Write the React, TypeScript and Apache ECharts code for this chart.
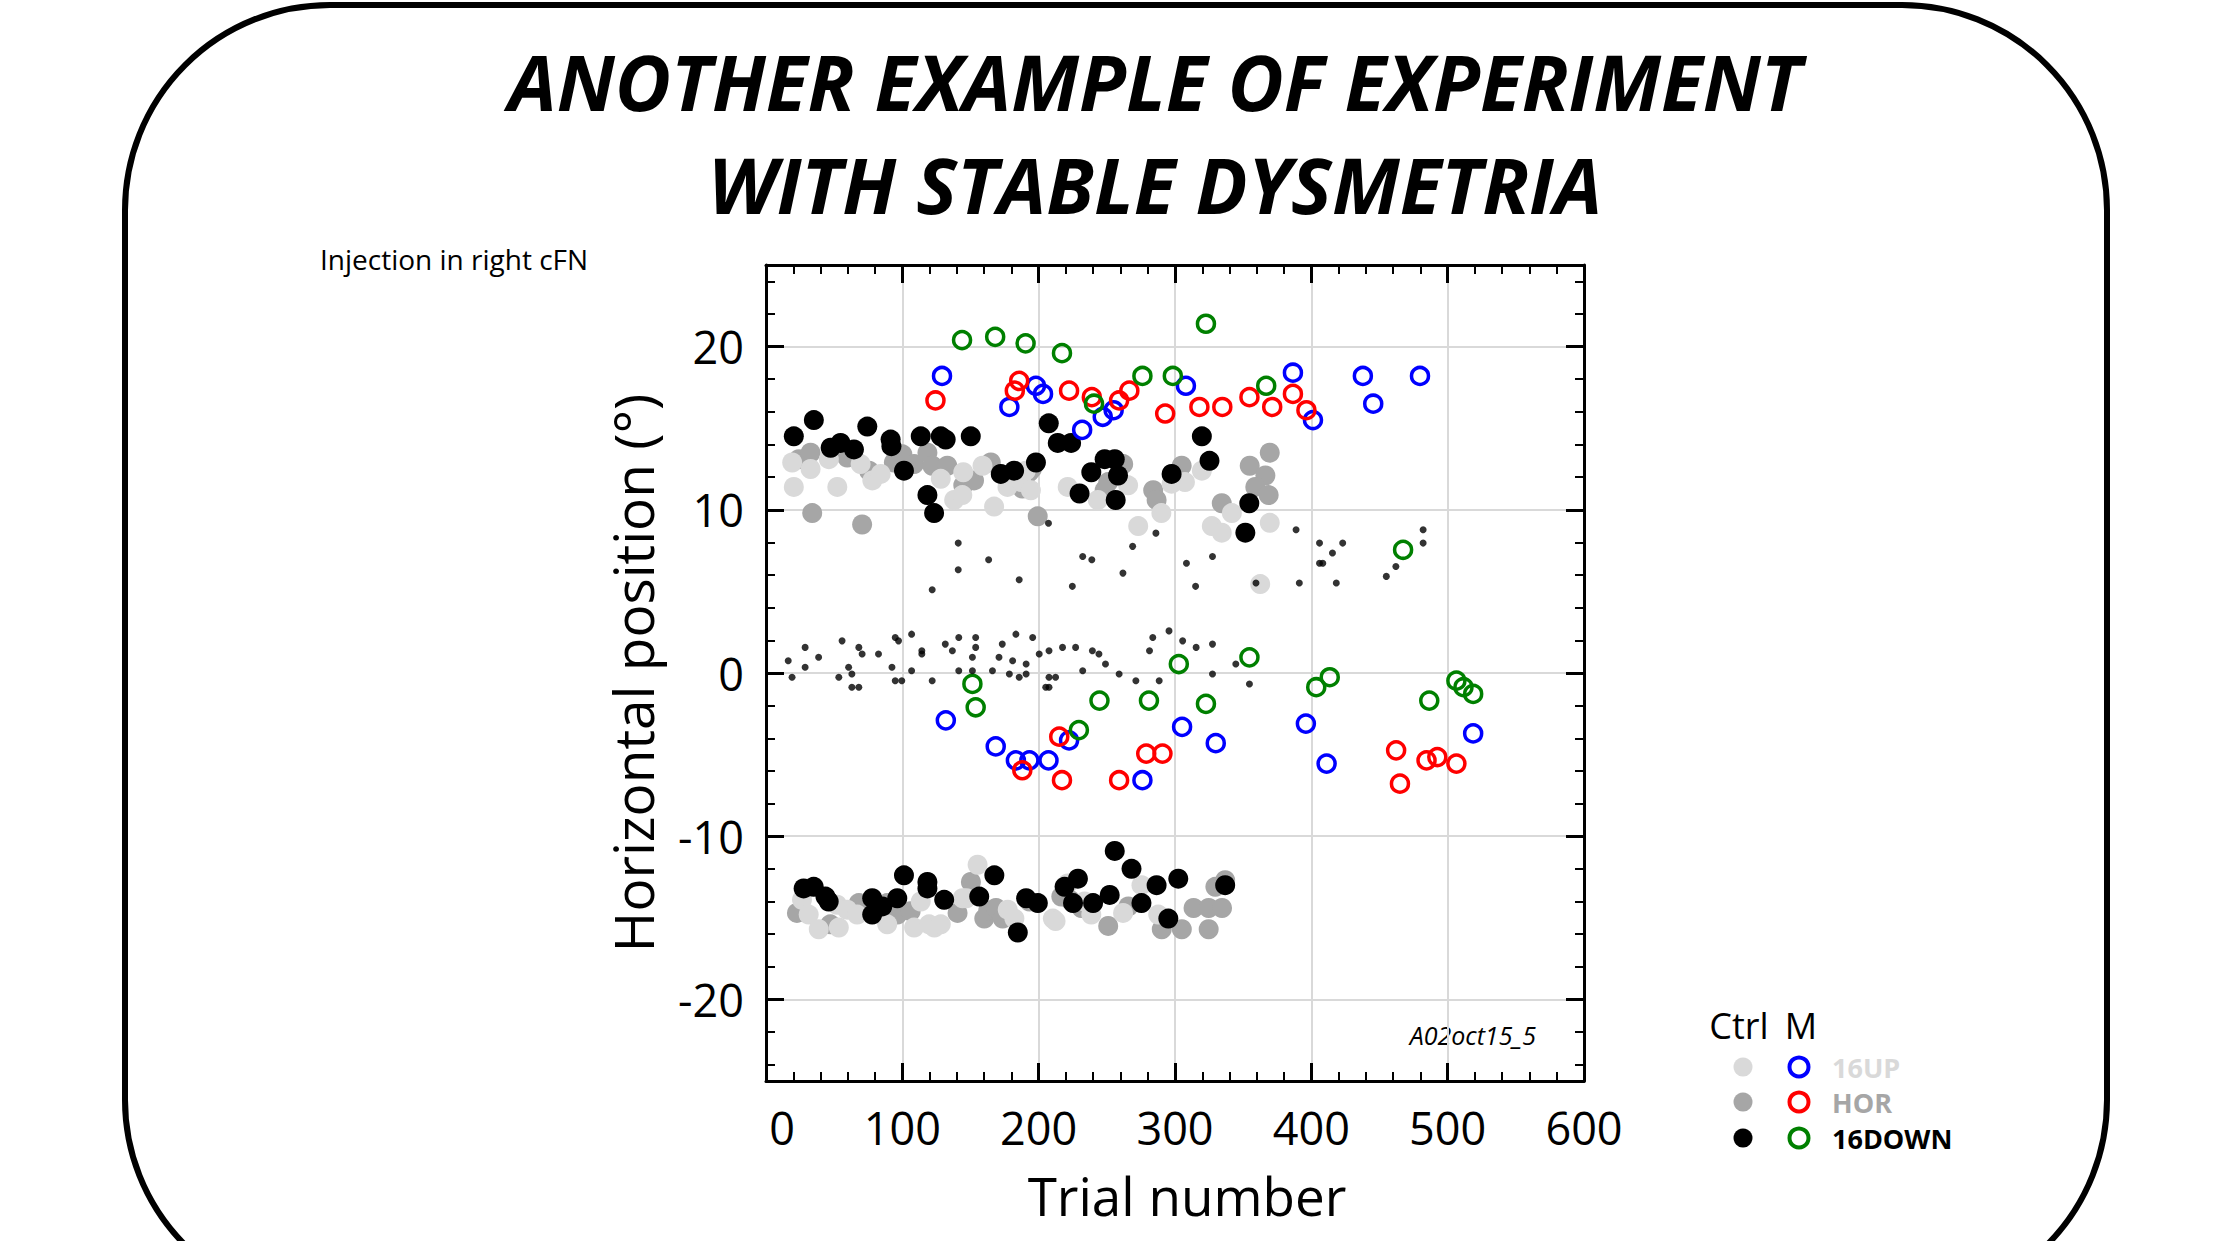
import React, { useEffect, useRef } from 'react';
import * as echarts from 'echarts';

const FONT = "'Open Sans', sans-serif";

const xRange = [0, 600];
const yRange = [-25, 25];

// Control trials (filled circles)
const ctrlUp: number[][] = [
  [19.2, 12.9], [20.4, 11.4], [32.7, 12.5], [46.1, 13.1], [52.3, 11.4], [69.4, 12.8], [78, 11.8], [84.1, 12.2],
  [128.2, 11.9], [138, 10.6], [144, 10.9], [144.7, 12.3], [158.8, 12.7], [167.3, 10.2], [177.1, 11.4], [187.3, 11.7],
  [190.6, 12.4], [194.3, 11.2], [221.3, 11.4], [243.4, 10.6], [265.6, 11.5], [273, 9.0], [290, 9.8], [297.5, 11.6],
  [307.3, 11.7], [319.7, 12.4], [327, 9.0], [334.3, 8.6], [341.7, 9.8], [369.5, 9.2], [362.5, 5.45],
  [26.4, -13.9], [31.3, -14.8], [38.7, -15.7], [52.1, -14.2], [53.4, -15.6], [59.5, -14.5], [66.9, -14.8], [88.9, -15.4],
  [108.6, -15.6], [113.5, -14.0], [119.6, -15.4], [123.5, -15.6], [128.2, -15.4], [144.2, -13.8], [147, -13.8], [155.2, -11.75],
  [177.3, -14.5], [182.2, -15.05], [210.4, -15.05], [212.4, -15.2], [221.4, -12.9], [233.7, -14.0], [238.6, -14.8],
  [261.9, -14.7], [275.4, -13.0], [287.7, -14.8],
];
const ctrlHor: number[][] = [
  [24.1, 13.1], [32.7, 13.5], [33.9, 9.8], [59.6, 13.2], [70.5, 9.1], [75.5, 12.4], [93.8, 12.9], [100, 13.4],
  [108.6, 12.8], [118.4, 13.5], [122, 12.7], [133, 12.7], [144.7, 11.5], [152.6, 11.8], [164.9, 12.9], [188, 11.3],
  [193, 12.3], [195, 12.5], [199.3, 9.6], [248.4, 11.2], [251, 11.7], [262, 12.8], [284, 11.2], [286.5, 10.6],
  [304.9, 12.7], [334.3, 10.4], [354.8, 12.7], [369.5, 13.5], [366.3, 12.1], [358.9, 11.4], [368.7, 10.9],
  [22.7, -14.7], [47.2, -15.4], [68.1, -14.1], [88.9, -14.1], [96.3, -14.8], [106.1, -14.6], [140.5, -14.7],
  [150.3, -12.8], [160.1, -15.05], [163, -14.55], [168.7, -14.4], [173.6, -15.05], [193.3, -14.0], [216.6, -13.7],
  [223, -13.9], [231.4, -14.4], [251, -15.5], [265.8, -14.3], [290.3, -15.7], [305, -15.7], [313.6, -14.4],
  [324.7, -14.4], [334.5, -14.4], [324.7, -15.7], [329.6, -13.1], [336.8, -12.7],
];
const ctrlDown: number[][] = [
  [20.4, 14.5], [35.1, 15.5], [47.4, 13.8], [54.7, 14.1], [64.5, 13.7], [74.3, 15.1], [91.4, 14.3], [92, 13.9],
  [101.2, 12.4], [113.5, 14.5], [118.4, 10.9], [123.3, 9.8], [128.2, 14.5], [131.8, 14.3], [150.2, 14.5], [172.2, 12.2],
  [182, 12.4], [198, 12.9], [207.4, 15.3], [214, 14.1], [223.8, 14.1], [230, 11.0], [238.6, 12.3], [248.4, 13.1],
  [255.8, 13.1], [258.2, 12.1], [256.5, 10.6], [297.5, 12.2], [319.7, 14.5], [325.3, 13.0], [354.5, 10.4], [351.6, 8.6],
  [27.6, -13.2], [35, -13.1], [43.6, -13.7], [46, -14.0], [77.9, -13.8], [77.9, -14.8], [85.3, -14.3], [96.3, -13.8],
  [101.2, -12.4], [118.4, -12.8], [118.4, -13.2], [130.7, -13.9], [156.4, -13.7], [167.5, -12.4], [184.7, -15.9],
  [190.8, -13.8], [199.4, -14.1], [219, -13.1], [228.8, -12.6], [225.2, -14.1], [239.9, -14.1], [252.1, -13.6],
  [255.8, -10.9], [268.1, -12.0], [275.4, -14.1], [286.5, -13.0], [295.1, -15.05], [302.4, -12.6], [336.8, -13.0],
];

// Manipulation trials (open circles)
const mUp: number[][] = [
  [129.1, 18.2], [178.5, 16.3], [198, 17.6], [203.2, 17.1], [231.9, 14.9], [247, 15.7], [255, 16.1], [308, 17.6],
  [386.5, 18.4], [401.2, 15.5], [437.8, 18.2], [445.4, 16.5], [479.7, 18.2],
  [131.9, -2.9], [168.5, -4.5], [183.3, -5.35], [193.2, -5.35], [207.2, -5.35], [222.3, -4.13], [276.1, -6.57],
  [305.2, -3.3], [329.9, -4.3], [396, -3.1], [411.2, -5.55], [518.7, -3.7],
];
const mHor: number[][] = [
  [124.3, 16.7], [182.5, 17.3], [185.7, 17.9], [222.3, 17.3], [239, 16.9], [259, 16.7], [266.5, 17.3], [292.8, 15.9],
  [317.9, 16.3], [334.7, 16.3], [354.6, 16.9], [371.3, 16.3], [386.5, 17.1], [396.4, 16.1],
  [215.1, -3.9], [188, -5.96], [217.1, -6.57], [259, -6.57], [278.9, -4.94], [290.8, -4.94], [462.2, -4.74],
  [465, -6.78], [484.5, -5.35], [492.4, -5.15], [506.4, -5.55],
];
const mDown: number[][] = [
  [143.8, 20.4], [168.1, 20.6], [190.4, 20.2], [217.1, 19.6], [322.7, 21.4], [276.1, 18.2], [298.4, 18.2],
  [366.9, 17.6], [240.6, 16.5], [467.3, 7.55],
  [151.4, -0.67], [153.8, -2.1], [229.5, -3.5], [244.6, -1.69], [280.9, -1.69], [302.8, 0.55], [322.7, -1.89],
  [354.6, 0.96], [403.6, -0.87], [413.5, -0.26], [486.5, -1.69], [506.4, -0.47], [511.6, -0.87], [518.7, -1.28],
];

// Small black dots
const dots: number[][] = [
  [207.2, 9.18], [286, 8.57], [141, 7.96], [268.9, 7.76], [232.3, 7.14], [239, 6.94], [163.3, 6.94], [308.4, 6.73],
  [327.5, 7.14], [141, 6.33], [261.8, 6.12], [185.7, 5.71], [224.7, 5.31], [315.1, 5.31], [121.9, 5.1], [359.4, 5.51],
  [388.8, 8.78], [406, 7.96], [423, 7.96], [415.5, 7.35], [406, 6.73], [408.4, 6.73], [391.2, 5.51], [418.3, 5.51],
  [482, 8.78], [482, 7.96], [462, 6.53], [455, 5.92],
  [16.3, 0.75], [19.1, -0.26], [28.7, 1.57], [28.7, 0.35], [38.6, 0.96], [55.8, 1.97], [53.4, -0.26], [60.6, 0.35],
  [63, -0.06], [63, -0.87], [68.1, -0.87], [68.1, 1.57], [70.5, 1.16], [82.5, 1.16], [92.4, 0.35], [94.8, 2.18],
  [97.2, 1.97], [94.8, -0.47], [99.6, -0.47], [106.8, 2.38], [106.8, 0.14], [114.3, 1.36], [114.3, 1.16], [121.9, -0.47],
  [131.5, 1.77], [136.7, 1.36], [141.4, 2.18], [141.4, 0.14], [151.4, 0.96], [151.4, 0.14], [153.8, 2.18], [153.8, 1.57],
  [166.1, 0.14], [170.9, 0.96], [173.3, 1.77], [180.9, 0.75], [178.5, -0.06], [183.3, 2.38], [185.7, -0.26], [190.8, 0.55],
  [190.8, -0.06], [195.6, 2.18], [200.4, 1.16], [207.6, 1.36], [207.6, -0.26], [212.4, -0.26], [205.2, -0.87], [207.6, -0.87],
  [217.5, 1.57], [227.1, 1.57], [232.3, 0.14], [239.4, 1.36], [244.2, 1.16], [249, 0.55], [259, -0.06], [271.3, -0.47],
  [281.3, 1.36], [283.7, 2.18], [288.4, -0.47], [295.6, 2.58], [305.6, 1.97], [315.5, 1.57], [327.5, 1.77], [327.5, -0.06],
  [344.6, 0.55], [354.6, -0.67],
];

const legendRows = [
  { label: '16UP', ctrl: '#d9d9d9', m: '#0000ff', text: '#d9d9d9' },
  { label: 'HOR', ctrl: '#a6a6a6', m: '#ff0000', text: '#a6a6a6' },
  { label: '16DOWN', ctrl: '#000000', m: '#008000', text: '#000000' },
];

const titleLines = ['ANOTHER EXAMPLE OF EXPERIMENT', 'WITH STABLE DYSMETRIA'];

function filled(name: string, data: number[][], color: string) {
  return {
    type: 'scatter', name, data, symbol: 'circle', symbolSize: 20,
    itemStyle: { color, opacity: 1 }, silent: true, emphasis: { disabled: true },
  };
}
function open(name: string, data: number[][], color: string) {
  return {
    type: 'scatter', name, data, symbol: 'circle', symbolSize: 17,
    itemStyle: { color: 'rgba(0,0,0,0)', borderColor: color, borderWidth: 3.5, opacity: 1 },
    silent: true, emphasis: { disabled: true },
  };
}

export default function App() {
  const ref = useRef<HTMLDivElement>(null);
  useEffect(() => {
    if (!ref.current) return;
    const chart = echarts.init(ref.current, null, { renderer: 'svg' });
    const axisLine = { show: true, onZero: false, lineStyle: { color: '#000', width: 3 } };
    const axisTick = { show: true, inside: true, length: 18, lineStyle: { color: '#000', width: 3 } };
    const minorTick = { show: true, splitNumber: 5, length: 9, lineStyle: { color: '#000', width: 2 } };
    const split = { show: true, showMinLine: false, showMaxLine: false, lineStyle: { color: '#d9d9d9', width: 2 } };

    const graphic: any[] = [
      {
        type: 'rect', shape: { x: 125, y: 5, width: 1982, height: 1300, r: 205 },
        style: { fill: 'none', stroke: '#000', lineWidth: 6 }, z: 0,
      },
      ...titleLines.map((t, i) => ({
        type: 'text', x: 1155, y: i === 0 ? 81 : 184,
        style: {
          text: t, fill: '#000', font: `italic bold 77px ${FONT}`,
          textAlign: 'center', textVerticalAlign: 'middle',
        },
      })),
      {
        type: 'text', x: 320, y: 259,
        style: { text: 'Injection in right cFN', fill: '#000', font: `28px ${FONT}`, textAlign: 'left', textVerticalAlign: 'middle' },
      },
      {
        type: 'text', x: 632, y: 673, rotation: Math.PI / 2,
        style: { text: 'Horizontal position (°)', fill: '#000', font: `55px ${FONT}`, textAlign: 'center', textVerticalAlign: 'middle' },
      },
      {
        type: 'text', x: 1187, y: 1195,
        style: { text: 'Trial number', fill: '#000', font: `53px ${FONT}`, textAlign: 'center', textVerticalAlign: 'middle' },
      },
      {
        type: 'text', x: 1536, y: 1035,
        style: { text: 'A02oct15_5', fill: '#000', font: `italic 25px ${FONT}`, textAlign: 'right', textVerticalAlign: 'middle' },
      },
      {
        type: 'text', x: 1739, y: 1025,
        style: { text: 'Ctrl', fill: '#000', font: `36px ${FONT}`, textAlign: 'center', textVerticalAlign: 'middle' },
      },
      {
        type: 'text', x: 1801, y: 1025,
        style: { text: 'M', fill: '#000', font: `36px ${FONT}`, textAlign: 'center', textVerticalAlign: 'middle' },
      },
    ];
    const rowY = [1067, 1102, 1138];
    legendRows.forEach((r, i) => {
      graphic.push({ type: 'circle', shape: { cx: 1743, cy: rowY[i], r: 9.5 }, style: { fill: r.ctrl } });
      graphic.push({ type: 'circle', shape: { cx: 1799, cy: rowY[i], r: 9.5 }, style: { fill: 'none', stroke: r.m, lineWidth: 4 } });
      graphic.push({
        type: 'text', x: 1832, y: rowY[i],
        style: { text: r.label, fill: r.text, font: `bold 27px ${FONT}`, textAlign: 'left', textVerticalAlign: 'middle' },
      });
    });

    chart.setOption({
      animation: false,
      backgroundColor: '#ffffff',
      textStyle: { fontFamily: FONT },
      grid: { left: 766, top: 265, width: 818, height: 816, containLabel: false, outerBoundsMode: 'none' },
      xAxis: [
        {
          type: 'value', min: xRange[0], max: xRange[1], interval: 100, position: 'bottom',
          axisLine, axisTick, minorTick, splitLine: split,
          axisLabel: {
            show: true, margin: 24, color: '#000', fontSize: 45, fontFamily: FONT,
            formatter: (v: number) => (v === 0 ? '{z|0}' : String(v)),
            rich: { z: { padding: [0, 0, 0, 32], fontSize: 45, fontFamily: FONT, color: '#000' } },
          },
        },
        {
          type: 'value', min: xRange[0], max: xRange[1], interval: 100, position: 'top',
          axisLine, axisTick, minorTick, splitLine: { show: false }, axisLabel: { show: false },
        },
      ],
      yAxis: [
        {
          type: 'value', min: yRange[0], max: yRange[1], position: 'left',
          axisLine, axisTick, minorTick, splitLine: split,
          axisLabel: {
            show: true, margin: 22, color: '#000', fontSize: 45, fontFamily: FONT,
            showMinLabel: false, showMaxLabel: false,
            formatter: (v: number) => (v % 10 === 0 ? String(v) : ''),
          },
        },
        {
          type: 'value', min: yRange[0], max: yRange[1], position: 'right',
          axisLine, axisTick, minorTick, splitLine: { show: false }, axisLabel: { show: false },
        },
      ],
      series: [
        filled('Ctrl HOR', ctrlHor, '#a6a6a6'),
        filled('Ctrl 16UP', ctrlUp, '#d9d9d9'),
        filled('Ctrl 16DOWN', ctrlDown, '#000000'),
        open('M 16UP', mUp, '#0000ff'),
        open('M HOR', mHor, '#ff0000'),
        open('M 16DOWN', mDown, '#008000'),
        {
          type: 'scatter', name: 'dots', data: dots, symbol: 'circle', symbolSize: 7,
          itemStyle: { color: '#000' }, silent: true, emphasis: { disabled: true },
        },
      ],
      graphic,
    });
    return () => chart.dispose();
  }, []);
  return (
    <div
      ref={ref}
      style={{ position: 'fixed', left: 0, top: 0, width: 2213, height: 1241, background: '#fff' }}
    />
  );
}
